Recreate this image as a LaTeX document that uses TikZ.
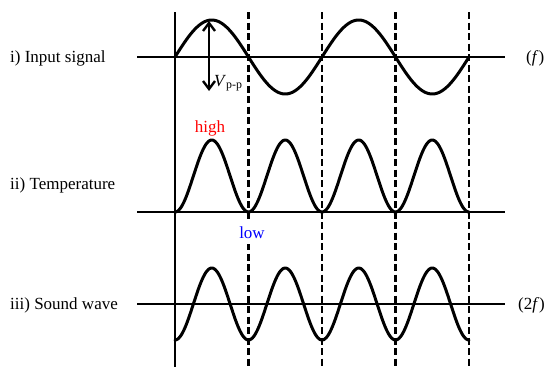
\documentclass[tikz,border=0pt]{standalone}
\usepackage{fontspec}
\setmainfont{Liberation Serif}
\usepackage{tikz}
\usetikzlibrary{arrows.meta}

\tikzset{
  axis/.style={line width=1.7pt},
  wave/.style={line width=3pt, line join=round, line cap=round},
  divider/.style={line width=2.8pt, dash pattern=on 7pt off 3.5pt},
  caption/.style={anchor=base west, inner sep=0pt, font=\fontsize{17}{20}\selectfont}
}

\begin{document}
\begin{tikzpicture}[x=1pt,y=-1pt]
    \useasboundingbox (0,0) rectangle (544,372);

    % axes
    \coordinate (axtop) at (175,12);
    \coordinate (axbot) at (175,367);
    \draw[axis] (axtop) -- (axbot);
    \foreach \row/\ypos in {input/57, temp/212, sound/304} {
        \coordinate (\row-l) at (137,\ypos);
        \coordinate (\row-r) at (505,\ypos);
        \draw[axis] (\row-l) -- (\row-r);
    }
    \foreach \k in {1,...,4} {
        \coordinate (cut\k-t) at ({175+73.5*\k},12);
        \coordinate (cut\k-b) at ({175+73.5*\k},367);
        \draw[divider] (cut\k-t) -- (cut\k-b);
    }

    % waves
    \draw[wave] plot[domain=175:469, samples=200, smooth] (\x, {57-37*sin(2.44898*(\x-175))});
    \draw[wave] plot[domain=175:469, samples=240, smooth] (\x, {212-36*(1-cos(4.89796*(\x-175)))});
    \draw[wave] plot[domain=175:469, samples=240, smooth] (\x, {304+36*cos(4.89796*(\x-175))});

    % amplitude
    \coordinate (vpp-t) at (209,21);
    \coordinate (vpp-b) at (209,91);
    \draw[line width=2.4pt, {Straight Barb[length=8pt,width=12pt]}-{Straight Barb[length=8pt,width=12pt]}] (vpp-t) -- (vpp-b);
    \node[caption] (vpp) at (214,86) {\textit{V}\textsubscript{p-p}};

    % labels
    \node[caption] (input) at (10,62) {i) Input signal};
    \node[caption] (temp) at (10,189) {ii) Temperature};
    \node[caption] (sound) at (10,309) {iii) Sound wave};
    \node[caption] (freq) at (526,62) {(\textit{f})};
    \node[caption] (freq2) at (518,309) {(2\textit{f})};
    \node[caption, anchor=base, text=red] (high) at (210,132) {high};
    \node[caption, anchor=base, text=blue, fill=white, inner xsep=1pt, inner ysep=6pt] (low) at (252,238) {low};
\end{tikzpicture}
\end{document}
